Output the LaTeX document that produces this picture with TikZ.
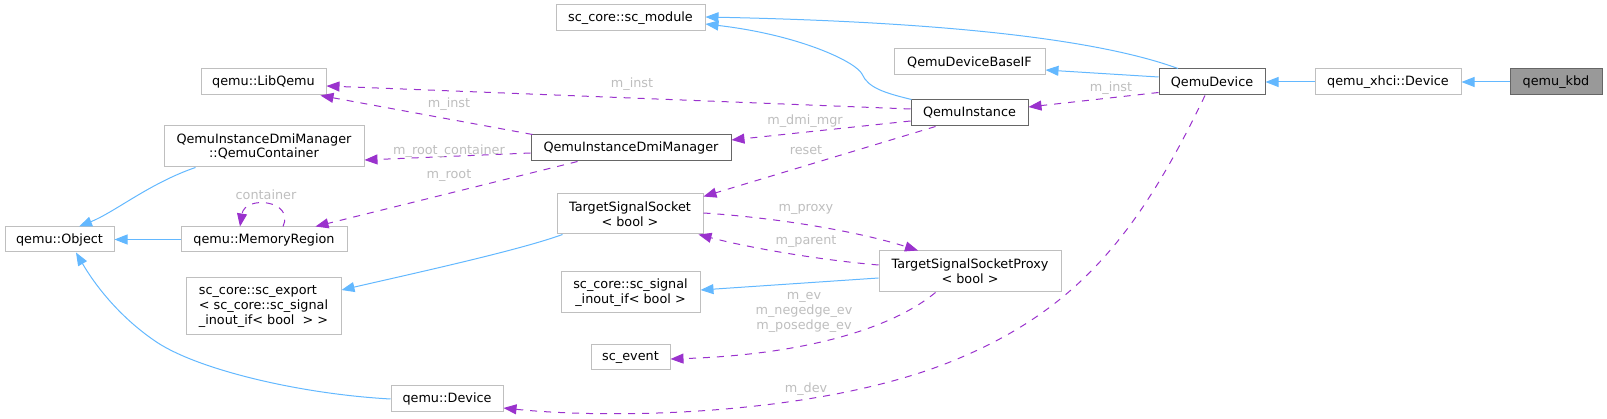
\documentclass[tikz,border=0pt]{standalone}
\usepackage{fontspec}
\setmainfont{DejaVu Sans}
\usetikzlibrary{arrows.meta,calc}
\definecolor{inhc}{HTML}{63B8FF}
\definecolor{usec}{HTML}{9A32CD}
\definecolor{lbl}{HTML}{BEBEBE}
\definecolor{lightb}{HTML}{BFBFBF}
\definecolor{darkb}{HTML}{666666}
\definecolor{kbdfill}{HTML}{999999}
\begin{document}
\begin{tikzpicture}[x=1pt,y=-1pt,
  box/.style={draw=lightb,line width=1pt,inner sep=0pt,font=\fontsize{12.8}{14.8}\selectfont,align=center},
  dbox/.style={box,draw=darkb},
  inh/.style={draw=inhc,line width=1pt,-{Triangle[length=13pt,width=10pt]}},
  use/.style={draw=usec,line width=1pt,dash pattern=on 7pt off 7pt,-{Triangle[length=13pt,width=10pt]}},
  lab/.style={text=lbl,font=\fontsize{12.8}{15}\selectfont,inner sep=0pt,align=center}]
\useasboundingbox (0,0) rectangle (1607,419);
% nodes
\node[box,minimum width=149pt,minimum height=26pt] (scmod) at (630.5,18) {sc\_core::sc\_module};
\node[box,minimum width=151pt,minimum height=26pt] (baseif) at (969.5,62) {QemuDeviceBaseIF};
\node[box,minimum width=125pt,minimum height=26pt] (libqemu) at (263.5,82) {qemu::LibQemu};
\node[dbox,minimum width=106pt,minimum height=26pt] (qdevice) at (1212,82) {QemuDevice};
\node[box,minimum width=146pt,minimum height=26pt] (xhci) at (1388,82) {qemu\_xhci::Device};
\node[dbox,fill=kbdfill,minimum width=92pt,minimum height=26pt] (kbd) at (1556,82) {qemu\_kbd};
\node[dbox,minimum width=117pt,minimum height=26pt] (qinst) at (969.5,113) {QemuInstance};
\node[dbox,minimum width=200pt,minimum height=26pt] (dmimgr) at (631,148) {QemuInstanceDmiManager};
\node[box,minimum width=200pt,minimum height=41pt] (container) at (264,146.5) {QemuInstanceDmiManager\\::QemuContainer};
\node[box,minimum width=146pt,minimum height=40pt] (tss) at (630,214) {TargetSignalSocket\\< bool >};
\node[box,minimum width=139pt,minimum height=41pt] (inout) at (630.5,292.5) {sc\_core::sc\_signal\\\_inout\_if< bool >};
\node[box,minimum width=182pt,minimum height=41pt] (proxy) at (970,271.5) {TargetSignalSocketProxy\\< bool >};
\node[box,minimum width=79pt,minimum height=25pt] (scevent) at (630.5,357.5) {sc\_event};
\node[box,minimum width=112pt,minimum height=26pt] (qdev) at (447,399) {qemu::Device};
\node[box,minimum width=109pt,minimum height=25pt] (obj) at (59.5,239.5) {qemu::Object};
\node[box,minimum width=166pt,minimum height=25pt] (memreg) at (264,239.5) {qemu::MemoryRegion};
\node[box,align=left,minimum width=155pt,minimum height=57pt] (export) at (263.5,306.5) {sc\_core::sc\_export\\< sc\_core::sc\_signal\\\_inout\_if< bool\ \ > >};
% inheritance
\draw[inh] (kbd.west) -- (xhci.east);
\draw[inh] (xhci.west) -- (qdevice.east);
\draw[inh] ($(qdevice.north)+(-34,0)$) .. controls (1100,40) and (950,22) .. ($(scmod.east)+(0,-1)$);
\draw[inh] ($(qdevice.west)+(0,-5)$) -- ($(baseif.east)+(0,8)$);
\draw[inh] ($(qinst.north west)+(1,0)$) .. controls (885,93) and (868,88) .. (862,74) .. controls (856,62) and (800,35) .. ($(scmod.east)+(0,6)$);
\draw[inh] ($(container.south west)+(32,0)$) .. controls (150,183) and (115,212) .. ($(obj.north)+(19.5,0)$);
\draw[inh] (memreg.west) -- (obj.east);
\draw[inh] (qdev.west) .. controls (300,394) and (200,370) .. (158,343) .. controls (120,318) and (95,285) .. ($(obj.south)+(16.5,0)$);
\draw[inh] ($(tss.south west)+(6,0)$) .. controls (520,250) and (420,272) .. ($(export.east)+(0,-16.5)$);
\draw[inh] ($(proxy.west)+(0,6.5)$) -- ($(inout.east)+(0,-2.5)$);
% usage
\draw[use] ($(qdevice.south west)+(0,-3)$) -- ($(qinst.east)+(0,-6)$) node[lab] at (1111,88) {m\_inst};
\draw[use] ($(qinst.west)+(0,-4)$) -- ($(libqemu.east)+(0,4)$) node[lab] at (632,84) {m\_inst};
\draw[use] ($(dmimgr.north west)+(2,0)$) -- ($(libqemu.south east)+(-6,0)$) node[lab] at (449,104) {m\_inst};
\draw[use] ($(qinst.west)+(0,8)$) -- ($(dmimgr.east)+(0,-8)$) node[lab] at (805,121) {m\_dmi\_mgr};
\draw[use] ($(dmimgr.west)+(0,5)$) -- ($(container.east)+(0,13.5)$) node[lab] at (449,151) {m\_root\_container};
\draw[use] ($(dmimgr.south west)+(47,0)$) -- ($(memreg.north east)+(-32,0)$) node[lab] at (449,176) {m\_root};
\draw[use] ($(memreg.north)+(19,0)$) .. controls (295,200) and (245,195) .. ($(memreg.north)+(-24,0)$) node[lab] at (266,195) {container};
\draw[use] ($(qinst.south west)+(25,0)$) -- ($(tss.north east)+(0,3)$) node[lab] at (806,150) {reset};
\draw[use] ($(tss.east)+(0,-1)$) .. controls (780,218) and (860,232) .. ($(proxy.north)+(-52,0)$) node[lab] at (806,209) {m\_proxy};
\draw[use] ($(proxy.west)+(0,-6.5)$) .. controls (820,260) and (750,248) .. ($(tss.south east)+(-5,0)$) node[lab] at (806,242) {m\_parent};
\draw[use] ($(proxy.south west)+(57,0)$) .. controls (890,330) and (800,355) .. ($(scevent.east)+(0,1.5)$) node[lab] at (804,312) {m\_ev\\m\_negedge\_ev\\m\_posedge\_ev};
\draw[use] ($(qdevice.south)+(-7,0)$) .. controls (1140,230) and (1080,310) .. (950,362) .. controls (820,414) and (620,420) .. ($(qdev.east)+(0,9)$) node[lab] at (806,389) {m\_dev};
\end{tikzpicture}
\end{document}
